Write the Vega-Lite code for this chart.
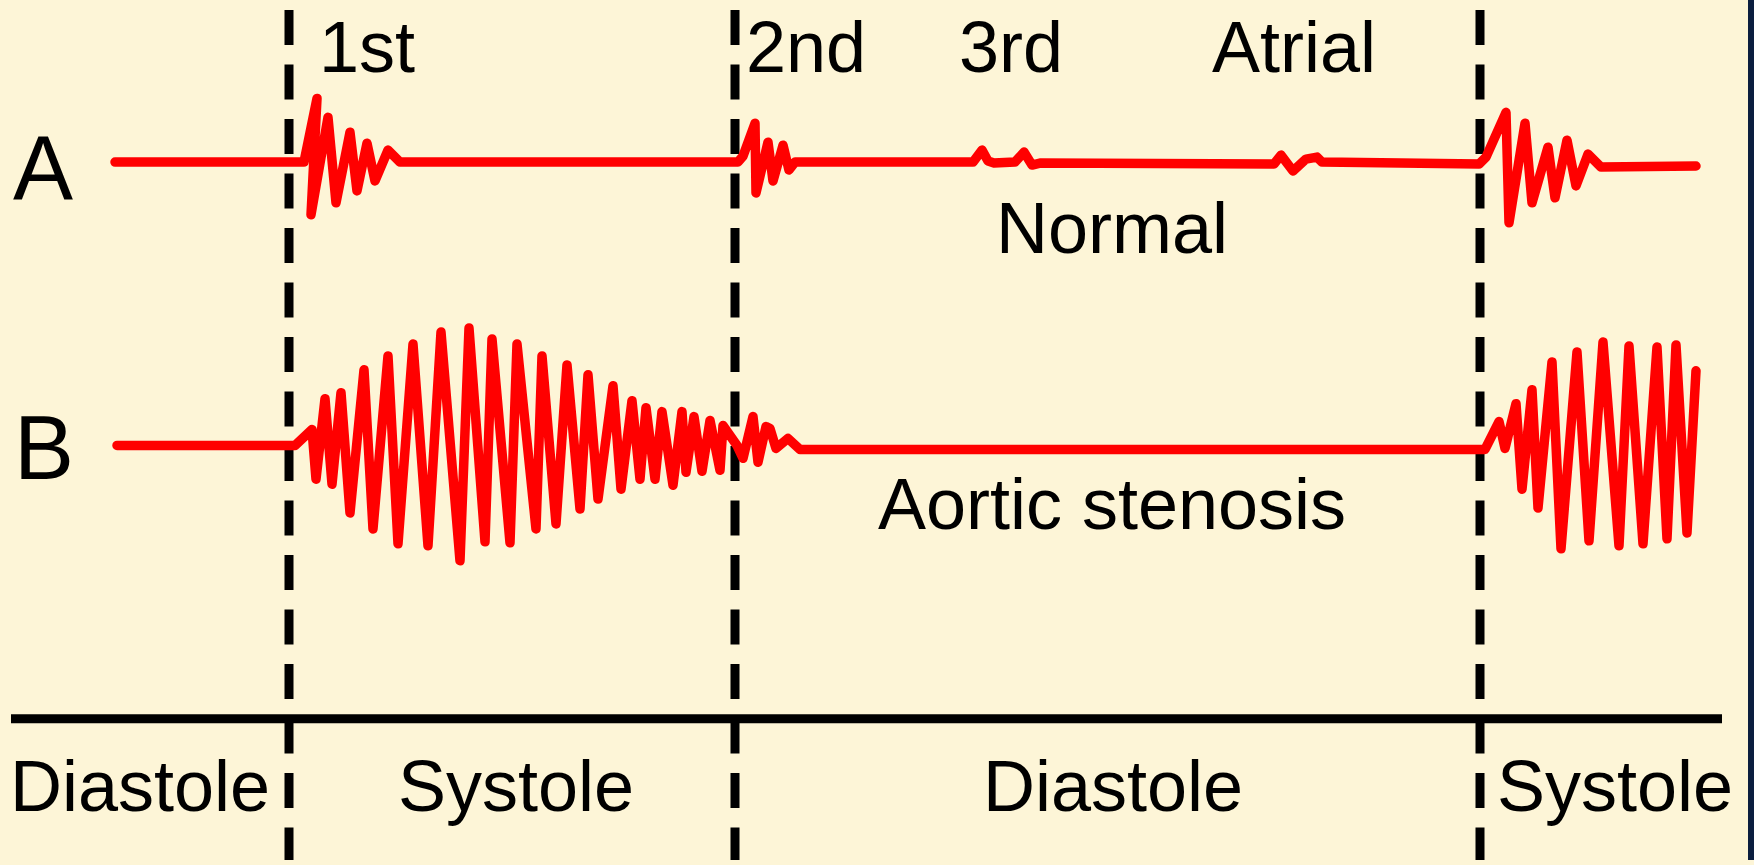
{
  "$schema": "https://vega.github.io/schema/vega-lite/v6.json",
  "width": 1754,
  "height": 865,
  "padding": 0,
  "autosize": {"type": "fit", "contains": "padding"},
  "background": "#fdf5d7",
  "config": {"view": {"stroke": null}},
  "datasets": {
    "traces": [
      {"trace": "A", "i": 0, "x": 115, "y": 163},
      {"trace": "A", "i": 1, "x": 304, "y": 163},
      {"trace": "A", "i": 2, "x": 317, "y": 99},
      {"trace": "A", "i": 3, "x": 311, "y": 216},
      {"trace": "A", "i": 4, "x": 328, "y": 118},
      {"trace": "A", "i": 5, "x": 336, "y": 204},
      {"trace": "A", "i": 6, "x": 350, "y": 133},
      {"trace": "A", "i": 7, "x": 357, "y": 192},
      {"trace": "A", "i": 8, "x": 367, "y": 144},
      {"trace": "A", "i": 9, "x": 375, "y": 182},
      {"trace": "A", "i": 10, "x": 388, "y": 151},
      {"trace": "A", "i": 11, "x": 400, "y": 163},
      {"trace": "A", "i": 12, "x": 738, "y": 163},
      {"trace": "A", "i": 13, "x": 743, "y": 157},
      {"trace": "A", "i": 14, "x": 755, "y": 124},
      {"trace": "A", "i": 15, "x": 756, "y": 194},
      {"trace": "A", "i": 16, "x": 768, "y": 143},
      {"trace": "A", "i": 17, "x": 773, "y": 182},
      {"trace": "A", "i": 18, "x": 783, "y": 146},
      {"trace": "A", "i": 19, "x": 789, "y": 171},
      {"trace": "A", "i": 20, "x": 795, "y": 163},
      {"trace": "A", "i": 21, "x": 973, "y": 163},
      {"trace": "A", "i": 22, "x": 982, "y": 151},
      {"trace": "A", "i": 23, "x": 988, "y": 162},
      {"trace": "A", "i": 24, "x": 994, "y": 164},
      {"trace": "A", "i": 25, "x": 1015, "y": 163},
      {"trace": "A", "i": 26, "x": 1024, "y": 153},
      {"trace": "A", "i": 27, "x": 1032, "y": 166},
      {"trace": "A", "i": 28, "x": 1040, "y": 164},
      {"trace": "A", "i": 29, "x": 1274, "y": 165},
      {"trace": "A", "i": 30, "x": 1281, "y": 156},
      {"trace": "A", "i": 31, "x": 1293, "y": 172},
      {"trace": "A", "i": 32, "x": 1306, "y": 160},
      {"trace": "A", "i": 33, "x": 1317, "y": 158},
      {"trace": "A", "i": 34, "x": 1322, "y": 163},
      {"trace": "A", "i": 35, "x": 1479, "y": 165},
      {"trace": "A", "i": 36, "x": 1486, "y": 158},
      {"trace": "A", "i": 37, "x": 1506, "y": 113},
      {"trace": "A", "i": 38, "x": 1509, "y": 224},
      {"trace": "A", "i": 39, "x": 1525, "y": 124},
      {"trace": "A", "i": 40, "x": 1532, "y": 204},
      {"trace": "A", "i": 41, "x": 1548, "y": 148},
      {"trace": "A", "i": 42, "x": 1555, "y": 199},
      {"trace": "A", "i": 43, "x": 1567, "y": 141},
      {"trace": "A", "i": 44, "x": 1576, "y": 187},
      {"trace": "A", "i": 45, "x": 1588, "y": 155},
      {"trace": "A", "i": 46, "x": 1601, "y": 168},
      {"trace": "A", "i": 47, "x": 1696, "y": 167},
      {"trace": "B", "i": 0, "x": 117, "y": 448},
      {"trace": "B", "i": 1, "x": 295, "y": 448},
      {"trace": "B", "i": 2, "x": 312, "y": 432},
      {"trace": "B", "i": 3, "x": 316, "y": 482},
      {"trace": "B", "i": 4, "x": 325, "y": 401},
      {"trace": "B", "i": 5, "x": 332, "y": 487},
      {"trace": "B", "i": 6, "x": 341, "y": 395},
      {"trace": "B", "i": 7, "x": 350, "y": 516},
      {"trace": "B", "i": 8, "x": 364, "y": 372},
      {"trace": "B", "i": 9, "x": 373, "y": 532},
      {"trace": "B", "i": 10, "x": 388, "y": 358},
      {"trace": "B", "i": 11, "x": 398, "y": 547},
      {"trace": "B", "i": 12, "x": 413, "y": 346},
      {"trace": "B", "i": 13, "x": 428, "y": 549},
      {"trace": "B", "i": 14, "x": 441, "y": 334},
      {"trace": "B", "i": 15, "x": 460, "y": 564},
      {"trace": "B", "i": 16, "x": 469, "y": 330},
      {"trace": "B", "i": 17, "x": 485, "y": 545},
      {"trace": "B", "i": 18, "x": 492, "y": 341},
      {"trace": "B", "i": 19, "x": 510, "y": 546},
      {"trace": "B", "i": 20, "x": 517, "y": 346},
      {"trace": "B", "i": 21, "x": 536, "y": 532},
      {"trace": "B", "i": 22, "x": 542, "y": 358},
      {"trace": "B", "i": 23, "x": 556, "y": 527},
      {"trace": "B", "i": 24, "x": 567, "y": 367},
      {"trace": "B", "i": 25, "x": 580, "y": 512},
      {"trace": "B", "i": 26, "x": 588, "y": 377},
      {"trace": "B", "i": 27, "x": 598, "y": 502},
      {"trace": "B", "i": 28, "x": 613, "y": 388},
      {"trace": "B", "i": 29, "x": 621, "y": 492},
      {"trace": "B", "i": 30, "x": 632, "y": 403},
      {"trace": "B", "i": 31, "x": 640, "y": 482},
      {"trace": "B", "i": 32, "x": 646, "y": 410},
      {"trace": "B", "i": 33, "x": 655, "y": 482},
      {"trace": "B", "i": 34, "x": 662, "y": 414},
      {"trace": "B", "i": 35, "x": 673, "y": 488},
      {"trace": "B", "i": 36, "x": 682, "y": 414},
      {"trace": "B", "i": 37, "x": 686, "y": 475},
      {"trace": "B", "i": 38, "x": 694, "y": 419},
      {"trace": "B", "i": 39, "x": 702, "y": 474},
      {"trace": "B", "i": 40, "x": 710, "y": 423},
      {"trace": "B", "i": 41, "x": 720, "y": 473},
      {"trace": "B", "i": 42, "x": 723, "y": 428},
      {"trace": "B", "i": 43, "x": 737, "y": 448},
      {"trace": "B", "i": 44, "x": 743, "y": 461},
      {"trace": "B", "i": 45, "x": 753, "y": 419},
      {"trace": "B", "i": 46, "x": 758, "y": 465},
      {"trace": "B", "i": 47, "x": 766, "y": 429},
      {"trace": "B", "i": 48, "x": 770, "y": 431},
      {"trace": "B", "i": 49, "x": 776, "y": 451},
      {"trace": "B", "i": 50, "x": 788, "y": 441},
      {"trace": "B", "i": 51, "x": 800, "y": 452},
      {"trace": "B", "i": 52, "x": 1485, "y": 452},
      {"trace": "B", "i": 53, "x": 1499, "y": 424},
      {"trace": "B", "i": 54, "x": 1505, "y": 451},
      {"trace": "B", "i": 55, "x": 1516, "y": 406},
      {"trace": "B", "i": 56, "x": 1522, "y": 492},
      {"trace": "B", "i": 57, "x": 1532, "y": 392},
      {"trace": "B", "i": 58, "x": 1538, "y": 511},
      {"trace": "B", "i": 59, "x": 1552, "y": 364},
      {"trace": "B", "i": 60, "x": 1561, "y": 552},
      {"trace": "B", "i": 61, "x": 1577, "y": 354},
      {"trace": "B", "i": 62, "x": 1589, "y": 544},
      {"trace": "B", "i": 63, "x": 1603, "y": 344},
      {"trace": "B", "i": 64, "x": 1619, "y": 549},
      {"trace": "B", "i": 65, "x": 1629, "y": 348},
      {"trace": "B", "i": 66, "x": 1643, "y": 547},
      {"trace": "B", "i": 67, "x": 1657, "y": 349},
      {"trace": "B", "i": 68, "x": 1667, "y": 542},
      {"trace": "B", "i": 69, "x": 1676, "y": 347},
      {"trace": "B", "i": 70, "x": 1687, "y": 536},
      {"trace": "B", "i": 71, "x": 1696, "y": 373}
    ],
    "phases": [{"x": 289}, {"x": 735}, {"x": 1480}],
    "timeline": [{"x": 11, "x2": 1722, "y": 723}],
    "border": [{"x": 1748, "x2": 1754, "y": 0, "y2": 865}],
    "rowLabels": [
      {"label": "A", "x": 43, "y": 200},
      {"label": "B", "x": 44, "y": 482}
    ],
    "soundLabels": [
      {"label": "1st", "x": 319, "y": 72},
      {"label": "2nd", "x": 746, "y": 72},
      {"label": "3rd", "x": 959, "y": 72},
      {"label": "Atrial", "x": 1212, "y": 72}
    ],
    "centerLabels": [
      {"label": "Normal", "x": 1112, "y": 254},
      {"label": "Aortic stenosis", "x": 1112, "y": 532},
      {"label": "Diastole", "x": 140, "y": 816},
      {"label": "Systole", "x": 516, "y": 816},
      {"label": "Diastole", "x": 1113, "y": 816},
      {"label": "Systole", "x": 1615, "y": 816}
    ]
  },
  "layer": [
    {
      "data": {"name": "border"},
      "mark": {"type": "rect", "color": "#0b1e3f"},
      "encoding": {
        "x": {"field": "x", "type": "quantitative", "scale": {"domain": [0, 1754], "nice": false, "zero": false}, "axis": null},
        "x2": {"field": "x2"},
        "y": {"field": "y", "type": "quantitative", "scale": {"domain": [0, 865], "nice": false, "zero": false, "reverse": true}, "axis": null},
        "y2": {"field": "y2"}
      }
    },
    {
      "data": {"name": "timeline"},
      "mark": {"type": "rule", "color": "#000000", "strokeWidth": 9},
      "encoding": {
        "x": {"field": "x", "type": "quantitative"},
        "x2": {"field": "x2"},
        "y": {"field": "y", "type": "quantitative"}
      }
    },
    {
      "data": {"name": "phases"},
      "mark": {"type": "rule", "color": "#000000", "strokeWidth": 9, "strokeDash": [35, 19.5]},
      "encoding": {
        "x": {"field": "x", "type": "quantitative"},
        "y": {"datum": 10, "type": "quantitative"},
        "y2": {"datum": 865}
      }
    },
    {
      "data": {"name": "traces"},
      "mark": {"type": "line", "color": "#ff0000", "strokeWidth": 9.5, "strokeJoin": "round", "strokeCap": "round"},
      "encoding": {
        "x": {"field": "x", "type": "quantitative"},
        "y": {"field": "y", "type": "quantitative"},
        "detail": {"field": "trace", "type": "nominal"},
        "order": {"field": "i", "type": "quantitative"}
      }
    },
    {
      "data": {"name": "rowLabels"},
      "mark": {"type": "text", "font": "Liberation Sans", "fontSize": 90, "align": "center", "baseline": "alphabetic", "color": "#000000"},
      "encoding": {
        "x": {"field": "x", "type": "quantitative"},
        "y": {"field": "y", "type": "quantitative"},
        "text": {"field": "label"}
      }
    },
    {
      "data": {"name": "soundLabels"},
      "mark": {"type": "text", "font": "Liberation Sans", "fontSize": 72, "align": "left", "baseline": "alphabetic", "color": "#000000"},
      "encoding": {
        "x": {"field": "x", "type": "quantitative"},
        "y": {"field": "y", "type": "quantitative"},
        "text": {"field": "label"}
      }
    },
    {
      "data": {"name": "centerLabels"},
      "mark": {"type": "text", "font": "Liberation Sans", "fontSize": 72, "align": "center", "baseline": "alphabetic", "color": "#000000"},
      "encoding": {
        "x": {"field": "x", "type": "quantitative"},
        "y": {"field": "y", "type": "quantitative"},
        "text": {"field": "label"}
      }
    }
  ]
}
